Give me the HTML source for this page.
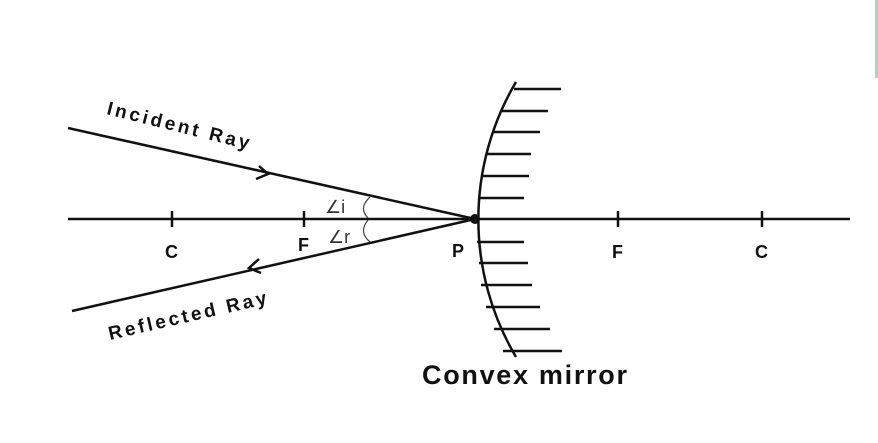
<!DOCTYPE html>
<html><head><style>body{margin:0;background:#fff}svg{display:block}</style></head><body>
<svg width="878" height="443" xmlns="http://www.w3.org/2000/svg" font-family="Liberation Sans, sans-serif">
<rect x="875" y="0" width="3" height="78" fill="#a8d5c4"/>
<g stroke="#111" stroke-width="2.5" fill="none">
<line x1="68" y1="219" x2="850" y2="219"/>
<line x1="68" y1="128" x2="475" y2="219"/>
<line x1="475" y1="219" x2="72" y2="311"/>
<path d="M259,166 L268,174 L256,179"/>
<path d="M259,259 L249,268 L261,273"/>
<path d="M516,82 A270,270 0 0 0 516,357"/>
<line x1="172" y1="211" x2="172" y2="227"/>
<line x1="304" y1="211" x2="304" y2="227"/>
<line x1="618" y1="211" x2="618" y2="227"/>
<line x1="762" y1="211" x2="762" y2="227"/>
<line x1="514" y1="89" x2="561" y2="89"/>
<line x1="502" y1="111" x2="548" y2="111"/>
<line x1="494" y1="132" x2="540" y2="132"/>
<line x1="487" y1="154" x2="531" y2="154"/>
<line x1="481" y1="176" x2="529" y2="176"/>
<line x1="478" y1="198" x2="524" y2="198"/>
<line x1="477" y1="242" x2="524" y2="242"/>
<line x1="479" y1="263" x2="528" y2="263"/>
<line x1="481" y1="285" x2="532" y2="285"/>
<line x1="486" y1="307" x2="540" y2="307"/>
<line x1="494" y1="329" x2="550" y2="329"/>
<line x1="503" y1="351" x2="562" y2="351"/>
</g>
<g stroke="#444" stroke-width="1.2" fill="none">
<path d="M370,197 Q358,208 368,218"/>
<path d="M368,220 Q358,232 370,242"/>
</g>
<circle cx="475" cy="219" r="5" fill="#111"/>
<g fill="#111" font-size="18" font-weight="bold">
<text x="165" y="258">C</text>
<text x="298" y="251">F</text>
<text x="452" y="257">P</text>
<text x="612" y="258">F</text>
<text x="755" y="258">C</text>
<text x="325" y="213" fill="#333" font-weight="normal">∠i</text>
<text x="328" y="243" fill="#333" font-weight="normal">∠r</text>
<text x="0" y="0" transform="translate(106,114) rotate(14)" font-size="19" letter-spacing="3">Incident Ray</text>
<text x="0" y="0" transform="translate(110,340) rotate(-13)" font-size="19" letter-spacing="3">Reflected Ray</text>
<text x="422" y="384" font-size="27" letter-spacing="1.7">Convex mirror</text>
</g>
</svg>
</body></html>
